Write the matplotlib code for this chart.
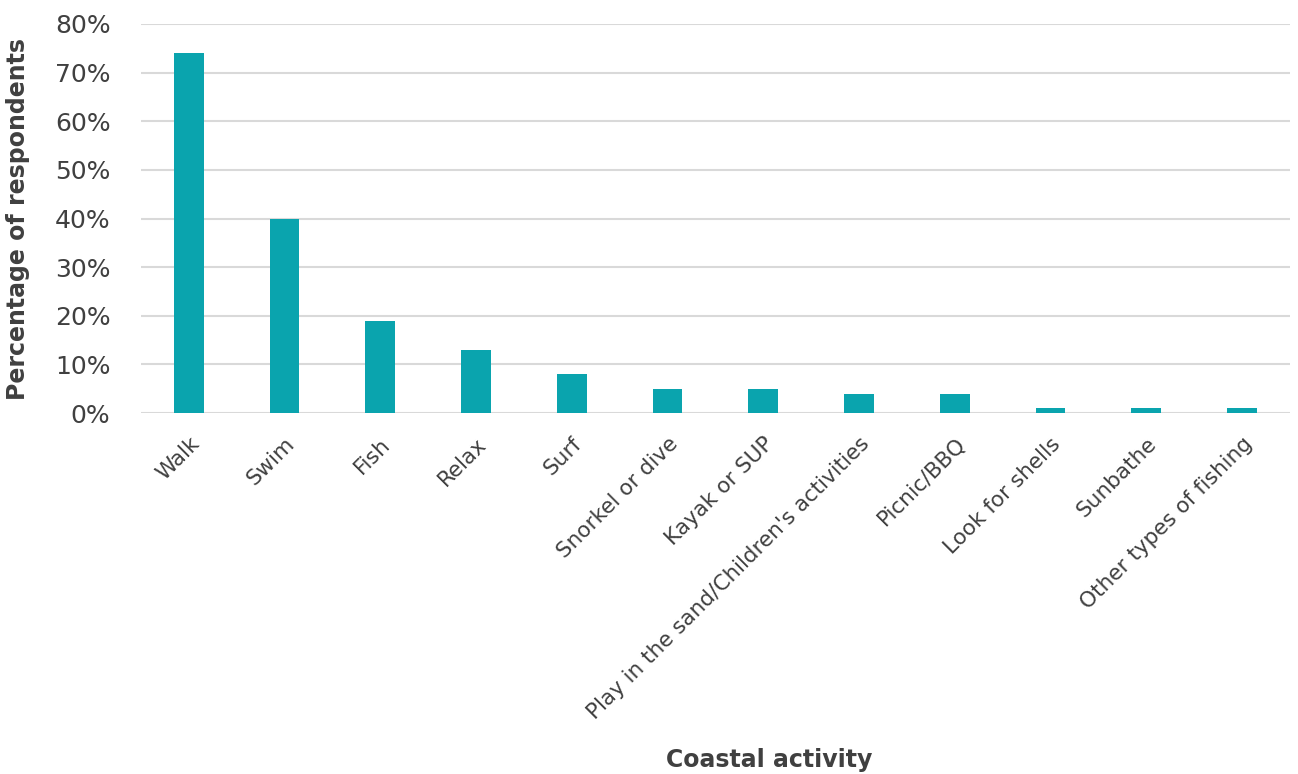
import numpy as np
import matplotlib
matplotlib.use("Agg")
import matplotlib.pyplot as plt
from matplotlib.ticker import PercentFormatter

# Survey data
activities = ["Walk", "Swim", "Fish", "Relax", "Surf", "Snorkel or dive",
              "Kayak or SUP", "Play in the sand/Children's activities",
              "Picnic/BBQ", "Look for shells", "Sunbathe", "Other types of fishing"]
percent = [74, 40, 19, 13, 8, 5, 5, 4, 4, 1, 1, 1]

plt.rcParams['font.family'] = ['DejaVu Sans']
text_col = '#404040'

fig = plt.figure(figsize=(12.98, 7.74), dpi=100)
ax = fig.add_axes([0.1086, 0.4664, 0.8852, 0.5026])

x = np.arange(len(activities))
ax.bar(x, percent, width=0.31, color='#0aa4ae', zorder=3)

ax.set_xlim(-0.5, len(activities) - 0.5)
ax.set_ylim(0, 80)
ax.set_yticks(np.arange(0, 81, 10))
ax.yaxis.set_major_formatter(PercentFormatter(decimals=0))
ax.grid(axis='y', color='#d9d9d9', linewidth=1.5, zorder=0)
for s in ax.spines.values():
    s.set_visible(False)
ax.tick_params(axis='both', length=0, colors=text_col)
ax.tick_params(axis='y', labelsize=18, pad=22)
ax.tick_params(axis='x', labelsize=15.5, pad=15)

ax.set_xticks(x)
ax.set_xticklabels(activities, rotation=45, ha='right', rotation_mode='anchor')

ax.set_xlabel('Coastal activity', fontsize=17, fontweight='bold', color=text_col)
ax.xaxis.set_label_coords(0.547, -0.861)
ax.set_ylabel('Percentage of respondents', fontsize=17, fontweight='bold', color=text_col)
ax.yaxis.set_label_coords(-0.097, 0.5)

fig.savefig('out.png', dpi=100)
